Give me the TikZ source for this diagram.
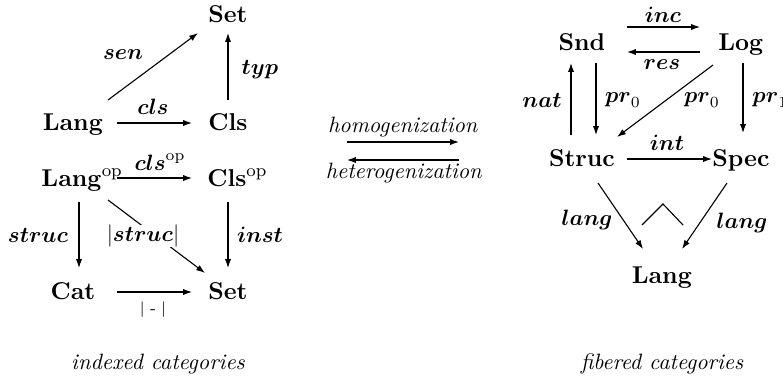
\documentclass[tikz,border=0pt]{standalone}
\usepackage{amsmath}
\usetikzlibrary{arrows.meta}
\begin{document}
\begin{tikzpicture}[x=0.45pt,y=-0.45pt,
  obj/.style={inner sep=0pt, anchor=base, font=\fontsize{11}{13}\selectfont},
  lbl/.style={inner sep=0pt, font=\fontsize{10}{12}\selectfont},
  captext/.style={inner sep=0pt, font=\fontsize{10}{12}\selectfont\itshape},
  arr/.style={-{Latex[length=4pt,width=2.8pt]}, line width=0.5pt},
  thinline/.style={line width=0.5pt}
]
\useasboundingbox (0,0) rectangle (783,381);

% ---------- left: indexed categories ----------
\node[obj] (setT) at (228,22) {$\mathbf{Set}$};
\node[obj] (lang) at (73,130) {$\mathbf{Lang}$};
\node[obj] (cls) at (228,130) {$\mathbf{Cls}$};
\node[obj, anchor=base west] (langop) at (41,186) {$\mathbf{Lang}^{\mathrm{op}}$};
\node[obj, anchor=base west] (clsop) at (207,186) {$\mathbf{Cls}^{\mathrm{op}}$};
\node[obj] (cat) at (73,299) {$\mathbf{Cat}$};
\node[obj] (setB) at (228,299) {$\mathbf{Set}$};

\draw[arr] ([shift={(35,-30)}]lang.base) -- ([shift={(-30,11)}]setT.base);
\draw[arr] ([shift={(0,-30)}]cls.base) -- ([shift={(0,11)}]setT.base);
\draw[arr] ([shift={(44,-7)}]lang.base) -- ([shift={(-36,-7)}]cls.base);
\draw[arr] ([shift={(76,-8)}]langop.base west) -- ([shift={(-15,-8)}]clsop.base west);
\draw[arr] ([shift={(38,16)}]langop.base west) -- ([shift={(6,-31)}]cat.base);
\draw[arr] ([shift={(21,16)}]clsop.base west) -- ([shift={(0,-31)}]setB.base);
\draw[arr] ([shift={(67,14)}]langop.base west) -- ([shift={(-23,-26)}]setB.base);
\draw[arr] ([shift={(44,-7)}]cat.base) -- ([shift={(-36,-7)}]setB.base);

\node[lbl] (lsen) at (123,55) {$\boldsymbol{sen}$};
\node[lbl] (ltyp) at (260,70) {$\boldsymbol{typ}$};
\node[lbl] (lcls) at (153,107) {$\boldsymbol{cls}$};
\node[lbl] (lclsop) at (160,162) {$\boldsymbol{cls}^{\mathrm{op}}$};
\node[lbl] (lstruc) at (38,235) {$\boldsymbol{struc}$};
\node[lbl, fill=white] (labs) at (143,236) {$|\boldsymbol{struc}|$};
\node[lbl] (linst) at (260,235) {$\boldsymbol{inst}$};
\node[lbl, font=\scriptsize] (lbars) at (153,310) {$|\;\mbox{-}\;|$};

% ---------- middle ----------
\coordinate (hL1) at (347,142);
\coordinate (hR1) at (459,142);
\coordinate (hL2) at (347,160);
\coordinate (hR2) at (459,160);
\draw[arr] (hL1) -- (hR1);
\draw[arr] (hR2) -- (hL2);
\node[lbl] (homog) at (403,127.5) {\textit{homogenization}};
\node[lbl] (heterog) at (404,173.5) {\textit{heterogenization}};

% ---------- right: fibered categories ----------
\node[obj] (snd) at (582,50) {$\mathbf{Snd}$};
\node[obj] (log) at (741,50) {$\mathbf{Log}$};
\node[obj] (struc) at (582,166) {$\mathbf{Struc}$};
\node[obj] (spec) at (741,166) {$\mathbf{Spec}$};
\node[obj] (langR) at (662,283) {$\mathbf{Lang}$};

\draw[arr] ([shift={(45,-23)}]snd.base) -- ([shift={(-41,-23)}]log.base);
\draw[arr] ([shift={(-41,2)}]log.base) -- ([shift={(45,2)}]snd.base);
\draw[arr] ([shift={(-11,-31)}]struc.base) -- ([shift={(-11,13)}]snd.base);
\draw[arr] ([shift={(14,13)}]snd.base) -- ([shift={(14,-31)}]struc.base);
\draw[arr] ([shift={(-28,15)}]log.base) -- ([shift={(35,-29)}]struc.base);
\draw[arr] ([shift={(2,13)}]log.base) -- ([shift={(2,-33)}]spec.base);
\draw[arr] ([shift={(45,-7)}]struc.base) -- ([shift={(-29,-7)}]spec.base);
\draw[arr] ([shift={(16,17)}]struc.base) -- ([shift={(-19,-34)}]langR.base);
\draw[arr] ([shift={(-14,17)}]spec.base) -- ([shift={(20,-34)}]langR.base);
\draw[thinline] ([shift={(-20,-58)}]langR.base) -- ([shift={(1,-79)}]langR.base) -- ([shift={(21,-58)}]langR.base);

\node[lbl] (linc) at (663,15) {$\boldsymbol{inc}$};
\node[lbl] (lres) at (662,65) {$\boldsymbol{res}$};
\node[lbl] (lnat) at (542,100) {$\boldsymbol{nat}$};
\node[lbl] (lpra) at (623,100) {$\boldsymbol{pr}_0$};
\node[lbl] (lprb) at (702,100) {$\boldsymbol{pr}_0$};
\node[lbl, anchor=west] (lprc) at (752,100) {$\boldsymbol{pr}_1$};
\node[lbl] (lint) at (667,143) {$\boldsymbol{int}$};
\node[lbl] (llangl) at (587,220) {$\boldsymbol{lang}$};
\node[lbl] (llangr) at (742,223) {$\boldsymbol{lang}$};

% ---------- captions ----------
\node[captext] (capL) at (158,364) {indexed categories};
\node[captext] (capR) at (662,364) {fibered categories};
\end{tikzpicture}
\end{document}
